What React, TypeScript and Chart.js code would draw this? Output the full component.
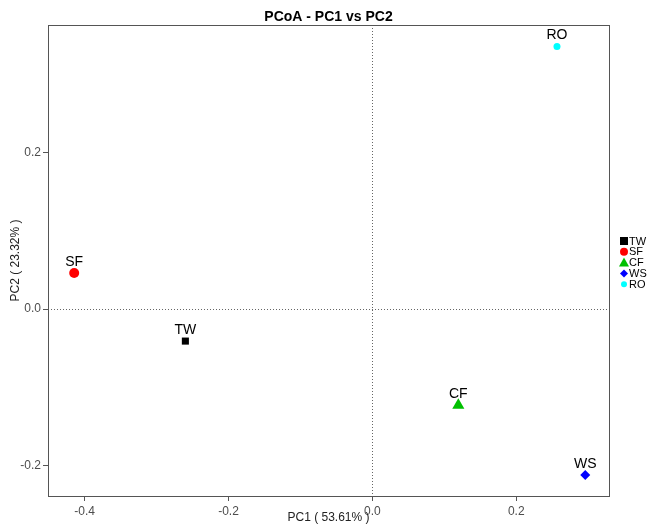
import React, { useEffect, useRef } from "react";
import { Chart, registerables } from "chart.js";

Chart.register(...registerables);

const samples = ["TW", "SF", "CF", "WS", "RO"];
const pc1 = [-0.26, -0.4146, 0.1195, 0.296, 0.2567];
const pc2 = [-0.041, 0.046, -0.123, -0.212, 0.3355];
const colors = ["#000000", "#ff0000", "#00c000", "#0000ff", "#00ffff"];
const shapes = ["rect", "circle", "triangle", "rectRot", "circle"];
const radii = [5, 5, 7, 5, 3.5];
const xTicks = [-0.4, -0.2, 0.0, 0.2];
const yTicks = [-0.2, 0.0, 0.2];
const titleText = "PCoA - PC1 vs PC2";
const xTitle = "PC1 ( 53.61% )";
const yTitle = "PC2 ( 23.32% )";

const FONT = "'Liberation Sans', Arial, sans-serif";

function drawShape(ctx: CanvasRenderingContext2D, shape: string, x: number, y: number, r: number) {
  ctx.beginPath();
  if (shape === "rect") {
    ctx.rect(x - r, y - r, 2 * r, 2 * r);
  } else if (shape === "circle") {
    ctx.arc(x, y, r, 0, Math.PI * 2);
  } else if (shape === "triangle") {
    ctx.moveTo(x, y - r - 1);
    ctx.lineTo(x + r + 1, y + r);
    ctx.lineTo(x - r - 1, y + r);
    ctx.closePath();
  } else if (shape === "rectRot") {
    ctx.moveTo(x, y - r);
    ctx.lineTo(x + r, y);
    ctx.lineTo(x, y + r);
    ctx.lineTo(x - r, y);
    ctx.closePath();
  }
  ctx.fill();
}

const overlay = {
  id: "overlay",
  beforeDatasetsDraw(chart: any) {
    const { ctx, chartArea: a, scales } = chart;
    const x0 = scales.x.getPixelForValue(0);
    const y0 = scales.y.getPixelForValue(0);
    ctx.save();
    ctx.strokeStyle = "#666";
    ctx.lineWidth = 1;
    ctx.setLineDash([1, 2]);
    ctx.beginPath();
    ctx.moveTo(Math.round(x0) + 0.5, a.top);
    ctx.lineTo(Math.round(x0) + 0.5, a.bottom);
    ctx.moveTo(a.left, Math.round(y0) + 0.5);
    ctx.lineTo(a.right, Math.round(y0) + 0.5);
    ctx.stroke();
    ctx.setLineDash([]);
    ctx.strokeStyle = "#555";
    ctx.strokeRect(Math.round(a.left) + 0.5, Math.round(a.top) + 0.5, Math.round(a.right - a.left), Math.round(a.bottom - a.top));
    ctx.restore();
  },
  afterDatasetsDraw(chart: any) {
    const { ctx, chartArea: a, scales } = chart;
    ctx.save();
    ctx.fillStyle = "#000";
    ctx.font = `14px ${FONT}`;
    ctx.textAlign = "center";
    ctx.textBaseline = "bottom";
    samples.forEach((s, i) => {
      const px = scales.x.getPixelForValue(pc1[i]);
      const py = scales.y.getPixelForValue(pc2[i]);
      ctx.fillText(s, px, py - 4);
    });
    ctx.font = `bold 14px ${FONT}`;
    ctx.textBaseline = "middle";
    ctx.fillText(titleText, (a.left + a.right) / 2, 17);
    ctx.font = `12px ${FONT}`;
    ctx.fillStyle = "#222";
    ctx.fillText(xTitle, (a.left + a.right) / 2, 518);
    ctx.save();
    ctx.translate(16, (a.top + a.bottom) / 2);
    ctx.rotate(-Math.PI / 2);
    ctx.fillText(yTitle, 0, 0);
    ctx.restore();
    ctx.font = `11px ${FONT}`;
    ctx.textAlign = "left";
    ctx.textBaseline = "middle";
    samples.forEach((s, i) => {
      const ly = 241 + i * 10.8;
      const lx = 624;
      ctx.fillStyle = colors[i];
      drawShape(ctx, shapes[i], lx, ly, i === 4 ? 3 : 4);
      ctx.fillStyle = "#000";
      ctx.fillText(s, 629, ly + 0.5);
    });
    ctx.restore();
  },
};

export default function App() {
  const ref = useRef<HTMLCanvasElement>(null);
  useEffect(() => {
    if (!ref.current) return;
    const chart = new Chart(ref.current, {
      type: "scatter",
      data: {
        datasets: samples.map((s, i) => ({
          label: s,
          data: [{ x: pc1[i], y: pc2[i] }],
          pointStyle: shapes[i] as any,
          pointRadius: radii[i],
          backgroundColor: colors[i],
          borderColor: colors[i],
          borderWidth: 0,
        })),
      },
      options: {
        animation: false,
        responsive: false,
        maintainAspectRatio: false,
        layout: { padding: { top: 25, right: 39, left: 0, bottom: 0 } },
        plugins: {
          legend: { display: false },
          tooltip: { enabled: false },
          title: { display: false },
        },
        scales: {
          x: {
            type: "linear",
            min: -0.451,
            max: 0.329,
            afterBuildTicks: (s: any) => {
              s.ticks = xTicks.map((v) => ({ value: v }));
            },
            afterFit: (s: any) => {
              s.height = 28;
            },
            ticks: {
              color: "#4d4d4d",
              font: { family: FONT, size: 12 },
              padding: 3,
              maxRotation: 0,
              callback: (v: any) => Number(v).toFixed(1),
            },
            grid: { drawOnChartArea: false, drawTicks: true, tickLength: 5, color: "#555" },
            border: { display: false },
          },
          y: {
            type: "linear",
            min: -0.239,
            max: 0.363,
            afterBuildTicks: (s: any) => {
              s.ticks = yTicks.map((v) => ({ value: v }));
            },
            afterFit: (s: any) => {
              s.width = 48;
            },
            ticks: {
              color: "#4d4d4d",
              font: { family: FONT, size: 12 },
              padding: 2,
              callback: (v: any) => Number(v).toFixed(1),
            },
            grid: { drawOnChartArea: false, drawTicks: true, tickLength: 5, color: "#555" },
            border: { display: false },
          },
        },
      },
      plugins: [overlay],
    } as any);
    return () => chart.destroy();
  }, []);
  return (
    <div style={{ position: "fixed", left: 0, top: 0, width: 648, height: 524, background: "#fff" }}>
      <canvas ref={ref} width={648} height={524} style={{ display: "block", width: 648, height: 524 }} />
    </div>
  );
}
